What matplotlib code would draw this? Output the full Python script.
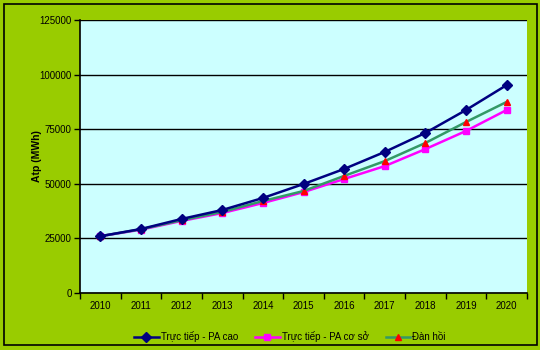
import matplotlib
matplotlib.use('Agg')
import matplotlib.pyplot as plt
from matplotlib.patches import Rectangle
import numpy as np

plt.rcParams['font.family'] = ['Liberation Sans', 'DejaVu Sans']

years = ['2010', '2011', '2012', '2013', '2014', '2015', '2016', '2017', '2018', '2019', '2020']
pa_cao = [26000, 29300, 33900, 38000, 43500, 49900, 56800, 64600, 73300, 83800, 95200]
pa_co_so = [26000, 29000, 33000, 36600, 41200, 46200, 52200, 58100, 65900, 74200, 83800]
dan_hoi = [26000, 29200, 33300, 37100, 42100, 46700, 53600, 60400, 68700, 78300, 87500]
yticks = [0, 25000, 50000, 75000, 100000, 125000]

fig = plt.figure(figsize=(5.4, 3.5), dpi=100)
fig.patch.set_facecolor('#99CC00')
fig.patches.append(Rectangle((4 / 540, 5 / 350), 533 / 540, 341 / 350, transform=fig.transFigure,
                             fill=False, edgecolor='black', linewidth=1.2))

ax = fig.add_axes([80 / 540, 1 - 293 / 350, 447 / 540, 273 / 350])
ax.set_facecolor('#CCFFFF')
x = np.arange(len(years))

ax.plot(x, pa_cao, color='#000080', lw=1.8, marker='D', ms=5, label='Trực tiếp - PA cao', zorder=4)
ax.plot(x, pa_co_so, color='#FF00FF', lw=1.8, marker='s', ms=4, label='Trực tiếp - PA cơ sở', zorder=3)
ax.plot(x, dan_hoi, color='#339966', lw=1.8, marker='^', ms=5, mfc='#FF0000', mec='#FF0000',
        label='Đàn hồi', zorder=3)

ax.set_xlim(-0.5, len(years) - 0.5)
ax.set_ylim(0, 125000)
ax.set_yticks(yticks)
ax.set_yticklabels([str(v) for v in yticks], fontsize=7)
ax.set_xticks(x)
ax.set_xticklabels(years, fontsize=7)
ax.set_xticks(np.arange(-0.5, len(years)), minor=True)
ax.tick_params(axis='x', which='major', length=0, pad=6)
ax.tick_params(axis='x', which='minor', length=4, direction='out', width=1)
ax.tick_params(axis='y', length=4, direction='out', width=1, pad=2)
ax.grid(axis='y', color='black', lw=1)
ax.set_axisbelow(True)
for s in ['top', 'right']:
    ax.spines[s].set_visible(False)
for s in ['left', 'bottom']:
    ax.spines[s].set_linewidth(1.2)

ax.set_ylabel('Atp (MWh)', fontsize=7.5, fontweight='bold', labelpad=-2)

fig.legend(loc='center', bbox_to_anchor=(290 / 540, 1 - 337 / 350), ncol=3, frameon=False,
           fontsize=7, handlelength=2.5, columnspacing=1.8, handletextpad=0.2)

fig.savefig('out.png', dpi=100, facecolor=fig.get_facecolor())
